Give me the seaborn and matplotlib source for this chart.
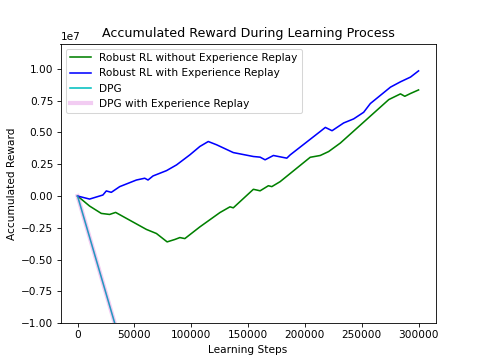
import seaborn as sns
import matplotlib.pyplot as plt
import pandas as pd

# values
steps_er = [0, 10600, 22300, 25300, 29700, 37100, 51800, 59100, 62000, 66400, 78300,
            87100, 98800, 107600, 115000, 122400, 137000, 154700, 160600, 165000,
            172300, 184100, 187100, 213500, 218000, 223900, 234100, 242900, 251700,
            257600, 275300, 284100, 292900, 300000]
reward_er = [0, -0.024, 0.008, 0.040, 0.029, 0.074, 0.126, 0.140, 0.126, 0.158, 0.200,
             0.245, 0.324, 0.390, 0.429, 0.403, 0.342, 0.311, 0.306, 0.285,
             0.319, 0.298, 0.324, 0.508, 0.540, 0.514, 0.575, 0.607, 0.659,
             0.728, 0.857, 0.899, 0.936, 0.985]

steps_no_er = [0, 10600, 20900, 28200, 33500, 43000, 60600, 69400, 78800, 85600, 90000,
               94400, 107600, 125300, 134100, 137000, 154700, 160600, 167900, 170900,
               178200, 204700, 213500, 220900, 231200, 273800, 284100, 287900, 292900,
               300000]
reward_no_er = [0, -0.079, -0.137, -0.145, -0.129, -0.176, -0.263, -0.295, -0.361, -0.342,
                -0.327, -0.335, -0.243, -0.130, -0.085, -0.093, 0.053, 0.041, 0.081, 0.074,
                0.113, 0.305, 0.319, 0.350, 0.417, 0.759, 0.804, 0.785, 0.807, 0.835]

steps_dpg = [0, 50000, 100000, 200000, 300000]
reward_dpg = [0, -1.53, -3.07, -6.14, -9.2]

scale = 1e7
reward_er = [v * scale for v in reward_er]
reward_no_er = [v * scale for v in reward_no_er]
reward_dpg = [v * scale for v in reward_dpg]

fig, ax = plt.subplots(figsize=(6.4, 4.8), dpi=75.625)

sns.lineplot(x=steps_no_er, y=reward_no_er, color='g', sort=False,
             label='Robust RL without Experience Replay', ax=ax)
sns.lineplot(x=steps_er, y=reward_er, color='b', sort=False,
             label='Robust RL with Experience Replay', ax=ax)
sns.lineplot(x=steps_dpg, y=reward_dpg, color='c', sort=False,
             label='DPG', ax=ax)
# thick translucent line drawn over DPG
sns.lineplot(x=steps_dpg, y=reward_dpg, color='m', alpha=0.2, linewidth=4, sort=False,
             label='DPG with Experience Replay', ax=ax)

ax.set_ylim(-1e7, 1.2e7)
ax.set_xlabel('Learning Steps')
ax.set_ylabel('Accumulated Reward')
ax.set_title('Accumulated Reward During Learning Process')
ax.legend(loc='upper left')

plt.savefig('out.png', dpi=75.625)
